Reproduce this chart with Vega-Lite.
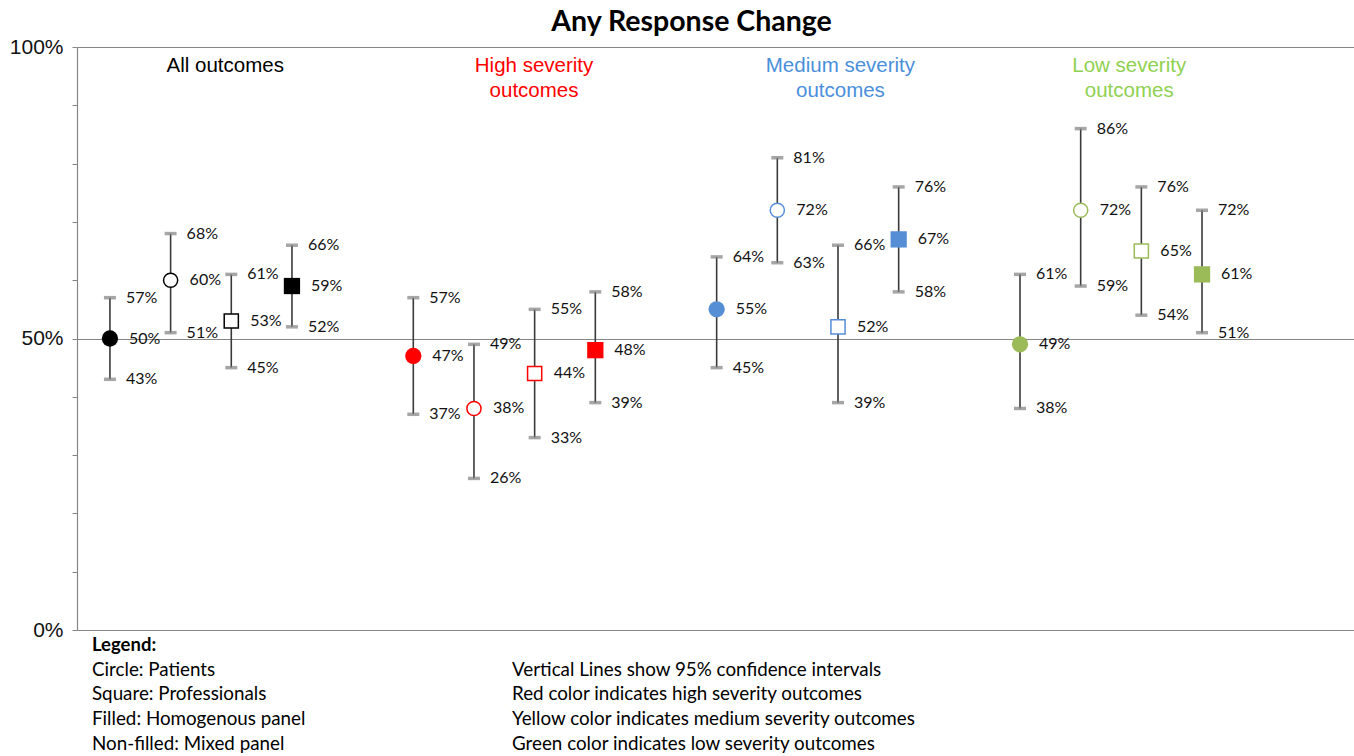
{
  "$schema": "https://vega.github.io/schema/vega-lite/v6.json",
  "width": 1277,
  "height": 583,
  "autosize": {"type": "none"},
  "padding": {"left": 77, "top": 47, "right": 0, "bottom": 126},
  "background": "white",
  "title": {
    "text": "Any Response Change",
    "font": "Lato",
    "fontSize": 28.5,
    "fontWeight": "bold",
    "color": "#000000",
    "anchor": "middle",
    "frame": "group",
    "dx": -24,
    "offset": 0
  },
  "config": {
    "view": {"stroke": null},
    "axis": {"grid": false}
  },
  "datasets": {
    "est": [
      {"group": "All", "slot": 1, "type": "Patients", "panel": "Homogenous", "val": 0.50, "lo": 0.43, "hi": 0.57},
      {"group": "All", "slot": 2, "type": "Patients", "panel": "Mixed", "val": 0.60, "lo": 0.51, "hi": 0.68},
      {"group": "All", "slot": 3, "type": "Professionals", "panel": "Mixed", "val": 0.53, "lo": 0.45, "hi": 0.61},
      {"group": "All", "slot": 4, "type": "Professionals", "panel": "Homogenous", "val": 0.59, "lo": 0.52, "hi": 0.66},
      {"group": "High", "slot": 6, "type": "Patients", "panel": "Homogenous", "val": 0.47, "lo": 0.37, "hi": 0.57},
      {"group": "High", "slot": 7, "type": "Patients", "panel": "Mixed", "val": 0.38, "lo": 0.26, "hi": 0.49},
      {"group": "High", "slot": 8, "type": "Professionals", "panel": "Mixed", "val": 0.44, "lo": 0.33, "hi": 0.55},
      {"group": "High", "slot": 9, "type": "Professionals", "panel": "Homogenous", "val": 0.48, "lo": 0.39, "hi": 0.58},
      {"group": "Medium", "slot": 11, "type": "Patients", "panel": "Homogenous", "val": 0.55, "lo": 0.45, "hi": 0.64},
      {"group": "Medium", "slot": 12, "type": "Patients", "panel": "Mixed", "val": 0.72, "lo": 0.63, "hi": 0.81},
      {"group": "Medium", "slot": 13, "type": "Professionals", "panel": "Mixed", "val": 0.52, "lo": 0.39, "hi": 0.66},
      {"group": "Medium", "slot": 14, "type": "Professionals", "panel": "Homogenous", "val": 0.67, "lo": 0.58, "hi": 0.76},
      {"group": "Low", "slot": 16, "type": "Patients", "panel": "Homogenous", "val": 0.49, "lo": 0.38, "hi": 0.61},
      {"group": "Low", "slot": 17, "type": "Patients", "panel": "Mixed", "val": 0.72, "lo": 0.59, "hi": 0.86},
      {"group": "Low", "slot": 18, "type": "Professionals", "panel": "Mixed", "val": 0.65, "lo": 0.54, "hi": 0.76},
      {"group": "Low", "slot": 19, "type": "Professionals", "panel": "Homogenous", "val": 0.61, "lo": 0.51, "hi": 0.72}
    ],
    "headers": [
      {"group": "All", "text": "All outcomes", "slot": 2.90, "yv": 0.967},
      {"group": "High", "text": "High severity", "slot": 7.99, "yv": 0.967},
      {"group": "High", "text": "outcomes", "slot": 7.99, "yv": 0.925},
      {"group": "Medium", "text": "Medium severity", "slot": 13.04, "yv": 0.967},
      {"group": "Medium", "text": "outcomes", "slot": 13.04, "yv": 0.925},
      {"group": "Low", "text": "Low severity", "slot": 17.80, "yv": 0.967},
      {"group": "Low", "text": "outcomes", "slot": 17.80, "yv": 0.925}
    ],
    "notes": [
      {"kind": "heading", "text": "Legend:", "slot": 0.704, "yv": -0.0257},
      {"kind": "line", "text": "Circle: Patients", "slot": 0.704, "yv": -0.0686},
      {"kind": "line", "text": "Square: Professionals", "slot": 0.704, "yv": -0.1098},
      {"kind": "line", "text": "Filled: Homogenous panel", "slot": 0.704, "yv": -0.1527},
      {"kind": "line", "text": "Non-filled: Mixed panel", "slot": 0.704, "yv": -0.1955},
      {"kind": "line", "text": "Vertical Lines show 95% confidence intervals", "slot": 7.627, "yv": -0.0686},
      {"kind": "line", "text": "Red color indicates high severity outcomes", "slot": 7.627, "yv": -0.1098},
      {"kind": "line", "text": "Yellow color indicates medium severity outcomes", "slot": 7.627, "yv": -0.1527},
      {"kind": "line", "text": "Green color indicates low severity outcomes", "slot": 7.627, "yv": -0.1955}
    ]
  },
  "encoding": {
    "x": {
      "field": "slot",
      "type": "quantitative",
      "scale": {"domain": [0.457, 21.505], "nice": false, "zero": false},
      "axis": {"labels": false, "ticks": false, "title": null, "domainColor": "#868686", "domainWidth": 1.2, "grid": false}
    }
  },
  "layer": [
    {
      "data": {"name": "est"},
      "mark": {"type": "rule", "color": "#3a3a3a", "strokeWidth": 1.6},
      "encoding": {
        "y": {
          "field": "lo",
          "type": "quantitative",
          "scale": {"domain": [0, 1], "nice": false, "zero": true},
          "axis": {
            "values": [0, 0.1, 0.2, 0.3, 0.4, 0.5, 0.6, 0.7, 0.8, 0.9, 1],
            "labelExpr": "datum.value == 0 || datum.value == 0.5 || datum.value == 1 ? format(datum.value, '.0%') : ''",
            "title": null,
            "labelFont": "Liberation Sans",
            "labelFontSize": 21,
            "labelColor": "#111111",
            "labelPadding": 9,
            "tickSize": 5,
            "tickColor": "#868686",
            "domainColor": "#868686",
            "domainWidth": 1.2,
            "grid": true,
            "gridColor": "#868686",
            "gridWidth": 1.2,
            "gridOpacity": {"condition": {"test": "datum.value == 0.5 || datum.value == 1", "value": 1}, "value": 0}
          }
        },
        "y2": {"field": "hi"}
      }
    },
    {
      "data": {"name": "est"},
      "mark": {"type": "tick", "orient": "horizontal", "size": 12, "thickness": 3.5, "color": "#808080"},
      "encoding": {"y": {"field": "lo", "type": "quantitative"}}
    },
    {
      "data": {"name": "est"},
      "mark": {"type": "tick", "orient": "horizontal", "size": 12, "thickness": 3.5, "color": "#808080"},
      "encoding": {"y": {"field": "hi", "type": "quantitative"}}
    },
    {
      "data": {"name": "est"},
      "transform": [{"filter": "datum.panel == 'Homogenous'"}],
      "mark": {"type": "point", "filled": true, "opacity": 1, "size": 265},
      "encoding": {
        "y": {"field": "val", "type": "quantitative"},
        "shape": {"field": "type", "type": "nominal", "scale": {"domain": ["Patients", "Professionals"], "range": ["circle", "square"]}, "legend": null},
        "color": {"field": "group", "type": "nominal", "scale": {"domain": ["All", "High", "Medium", "Low"], "range": ["#000000", "#FF0000", "#558ED5", "#9BBB59"]}, "legend": null}
      }
    },
    {
      "data": {"name": "est"},
      "transform": [{"filter": "datum.panel == 'Mixed'"}],
      "mark": {"type": "point", "filled": false, "fill": "white", "fillOpacity": 1, "opacity": 1, "size": 200, "strokeWidth": 1.5},
      "encoding": {
        "y": {"field": "val", "type": "quantitative"},
        "shape": {"field": "type", "type": "nominal", "scale": {"domain": ["Patients", "Professionals"], "range": ["circle", "square"]}, "legend": null},
        "color": {"field": "group", "type": "nominal", "scale": {"domain": ["All", "High", "Medium", "Low"], "range": ["#000000", "#FF0000", "#558ED5", "#9BBB59"]}, "legend": null}
      }
    },
    {
      "data": {"name": "est"},
      "mark": {"type": "text", "align": "left", "baseline": "middle", "dx": 16, "font": "Lato", "fontSize": 16, "color": "#111111"},
      "encoding": {
        "y": {"field": "hi", "type": "quantitative"},
        "text": {"field": "hi", "type": "quantitative", "format": ".0%"}
      }
    },
    {
      "data": {"name": "est"},
      "mark": {"type": "text", "align": "left", "baseline": "middle", "dx": 16, "font": "Lato", "fontSize": 16, "color": "#111111"},
      "encoding": {
        "y": {"field": "lo", "type": "quantitative"},
        "text": {"field": "lo", "type": "quantitative", "format": ".0%"}
      }
    },
    {
      "data": {"name": "est"},
      "mark": {"type": "text", "align": "left", "baseline": "middle", "dx": 19, "font": "Lato", "fontSize": 16, "color": "#111111"},
      "encoding": {
        "y": {"field": "val", "type": "quantitative"},
        "text": {"field": "val", "type": "quantitative", "format": ".0%"}
      }
    },
    {
      "data": {"name": "headers"},
      "mark": {"type": "text", "align": "center", "baseline": "middle", "font": "Liberation Sans", "fontSize": 20.5},
      "encoding": {
        "y": {"field": "yv", "type": "quantitative"},
        "text": {"field": "text", "type": "nominal"},
        "color": {"field": "group", "type": "nominal", "scale": {"domain": ["All", "High", "Medium", "Low"], "range": ["#000000", "#FF0000", "#4A8FDB", "#8FD150"]}, "legend": null}
      }
    },
    {
      "data": {"name": "notes"},
      "transform": [{"filter": "datum.kind == 'heading'"}],
      "mark": {"type": "text", "align": "left", "baseline": "middle", "font": "Lato", "fontSize": 18.5, "fontWeight": "bold", "color": "#000000"},
      "encoding": {
        "y": {"field": "yv", "type": "quantitative"},
        "text": {"field": "text", "type": "nominal"}
      }
    },
    {
      "data": {"name": "notes"},
      "transform": [{"filter": "datum.kind == 'line'"}],
      "mark": {"type": "text", "align": "left", "baseline": "middle", "font": "Lato", "fontSize": 18.8, "color": "#000000"},
      "encoding": {
        "y": {"field": "yv", "type": "quantitative"},
        "text": {"field": "text", "type": "nominal"}
      }
    }
  ],
  "resolve": {"scale": {"color": "independent"}}
}
